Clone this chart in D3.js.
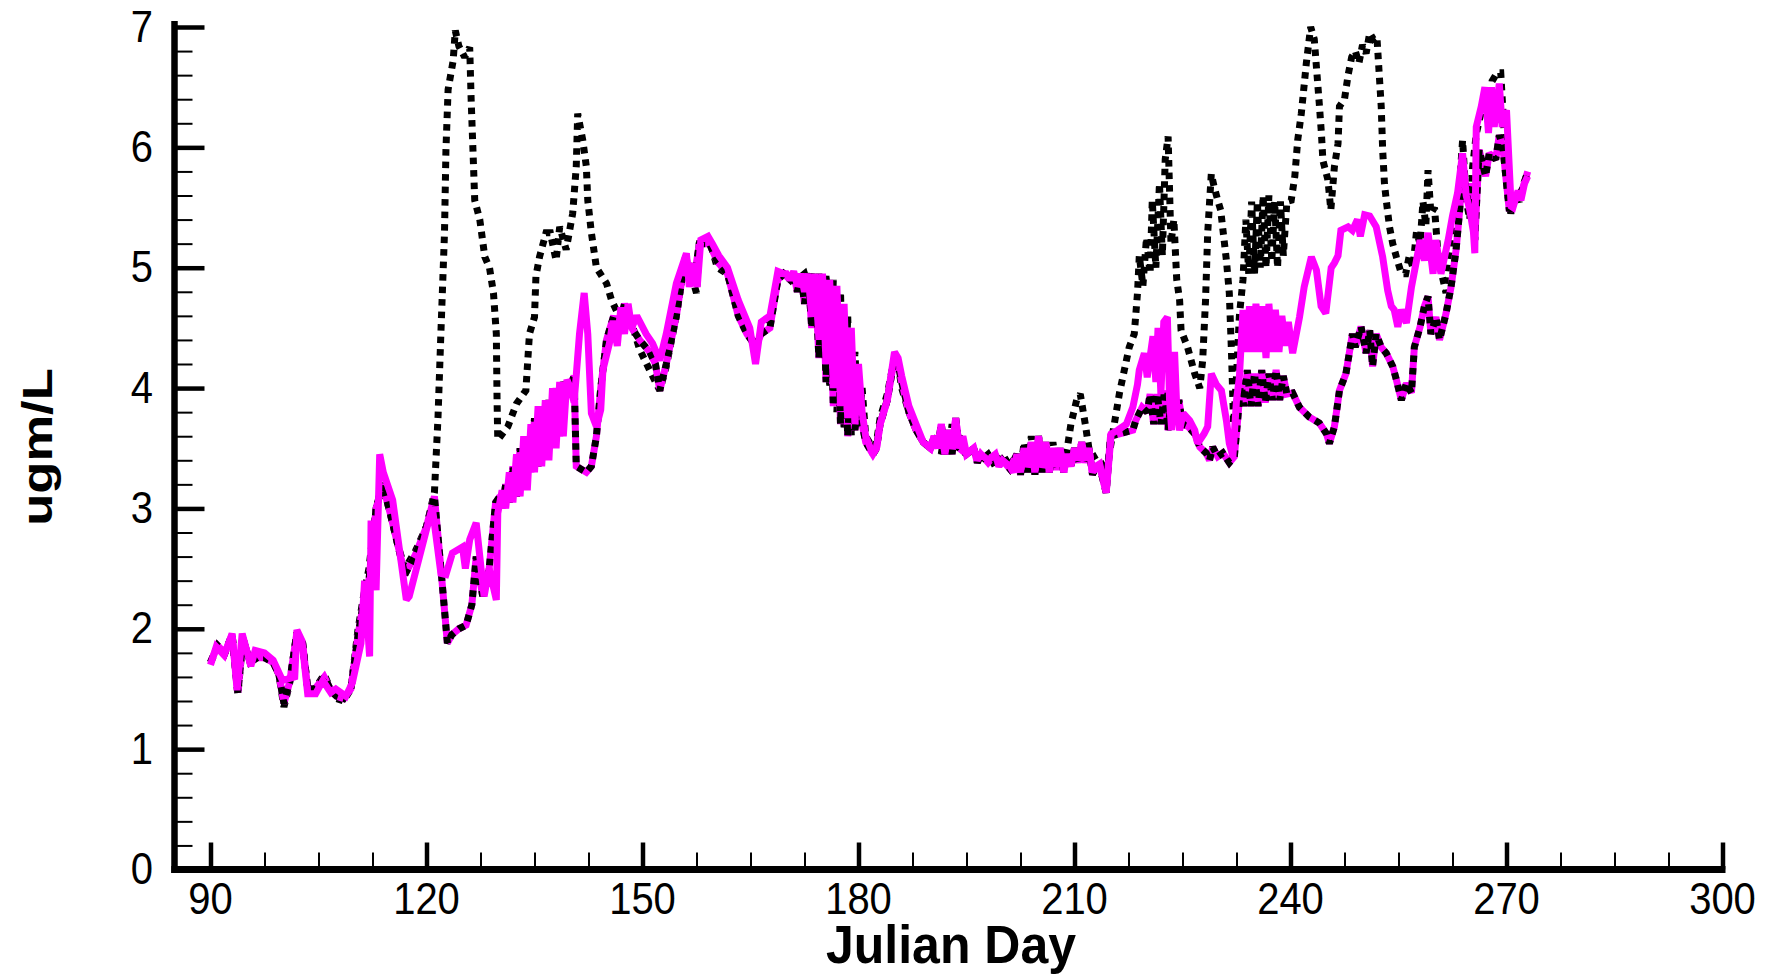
<!DOCTYPE html>
<html><head><meta charset="utf-8">
<script src="https://cdn.jsdelivr.net/npm/d3@7"></script>
<style>html,body{margin:0;padding:0;background:#fff;}svg{display:block;}</style>
</head><body>
<script>
// ---- data (Julian Day, ugm/L) ----
const xMajorTicks = [90,120,150,180,210,240,270,300];
const yMajorTicks = [0,1,2,3,4,5,6,7];
const xLabel = "Julian Day";
const yLabel = "ugm/L";

// upper black dotted series
const seriesHigh = [[90,1.72],[91,1.86],[92,1.8],[93,1.95],[93.8,1.45],[94.5,1.92],[95.5,1.72],[96.5,1.76],[97.5,1.78],[98.7,1.72],[99.5,1.62],[100.2,1.35],[101,1.55],[102,1.97],[102.8,1.88],[103.5,1.5],[104.5,1.5],[105.8,1.62],[106.8,1.48],[107.5,1.42],[108.5,1.4],[109.5,1.5],[110.5,2.0],[111.2,2.25],[112,2.5],[113,3.0],[113.9,3.21],[115,2.95],[116,2.7],[117,2.5],[118.5,2.65],[120,2.85],[121.1,3.13],
[121.6,3.76],[122,4.46],[122.5,5.29],[122.7,5.98],[123,6.48],[123.7,6.72],[124,6.97],[124.5,6.84],[125.3,6.75],[126,6.83],[126.2,6.4],[126.7,5.56],[127.4,5.4],[128.1,5.09],[128.75,5.0],[129.3,4.79],[129.7,4.45],[129.8,3.9],[129.9,3.57],[131.3,3.68],[131.8,3.76],[132.5,3.87],[133.8,3.98],[134.3,4.45],[135,4.59],[135.2,4.93],[135.7,5.09],[136.6,5.29],[137.2,5.29],[138,5.06],[138.5,5.34],[139.4,5.15],[140.3,5.45],[140.8,5.84],[141,6.28],[141.7,6.06],[142.2,5.84],[142.4,5.56],[142.9,5.29],[143.6,5.0],[145,4.87],[145.7,4.73],[146.8,4.59],[148.2,4.6],[149.6,4.32],[151.4,4.1],[152.4,3.98],[153.3,4.18],[154.7,4.6],[155.6,4.95],[156,5.1],[157.5,4.79],[157.9,5.23],[159.3,5.23],[160.4,5.0],
[161.8,4.95],[163.3,4.65],[164.5,4.5],[165.5,4.35],[166.5,4.45],[167.7,4.55],[168.8,4.9],[169.6,4.95],[170.5,4.95],[171.5,4.9],[172.5,4.95],[173,4.85],[173.5,4.95],[174,4.6],[174.5,4.95],[175,4.3],[175.5,4.95],[176,4.0],[176.5,4.9],[177,3.8],[177.5,4.8],[178,3.65],[178.5,4.6],[179,3.6],[179.5,4.3],[180,3.7],[180.5,4.0],[181,3.6],[182,3.5],[182.5,3.55],[183,3.75],[184,3.95],[185,4.25],[185.5,4.2],[186,4.0],[187,3.8],[188,3.65],[189,3.55],[190,3.5],
[190.5,3.55],[191,3.6],[191.5,3.45],[192,3.65],[192.5,3.45],[193,3.7],[193.5,3.5],[194,3.6],[195,3.45],[196,3.5],[197,3.4],[198,3.45],[199,3.35],[200,3.45],[201,3.35],[202,3.45],[202.5,3.3],[203,3.55],[203.5,3.35],[204,3.6],[204.5,3.3],[205,3.6],[205.5,3.35],[206,3.55],[206.5,3.3],[207,3.55],[207.5,3.35],[208,3.5],[208.5,3.35],[209,3.5],[209.5,3.7],[210.3,3.9],[210.8,3.95],[211.5,3.7],[212,3.5],[213,3.4],[213.5,3.4],[214.4,3.3],[215.3,3.62],[216.25,3.96],[217.6,4.34],[218.3,4.45],[218.75,4.79],[219,5.1],
[219.5,4.85],[220,5.25],[220.5,4.95],[220.8,5.56],[221.3,5.0],[221.8,5.7],[222.2,5.1],[222.6,5.9],[223,6.09],[223.4,5.2],[223.8,5.4],[224.2,4.9],[224.6,4.73],[224.8,4.48],[225.7,4.34],[226.7,4.12],[227.4,4.0],[227.8,4.23],[228.2,4.73],[228.5,5.29],[229,5.78],[229.4,5.67],[229.9,5.56],[230.3,5.48],[231.1,5.06],[231.5,4.79],[231.8,4.3],[232.1,3.7],[232.5,4.1],[232.9,4.6],[233.4,4.9],[233.8,5.4],[234.2,4.95],[234.6,5.55],[235,4.95],[235.4,5.55],[235.8,5.0],[236.2,5.6],[236.6,5.0],[237,5.6],[237.4,5.05],[237.8,5.55],[238.2,5.0],[238.6,5.55],[239,5.1],[239.5,5.55],[240.1,5.56],[240.6,5.76],[241,6.06],[241.5,6.28],[242.2,6.7],[242.8,7.0],[243.3,6.9],[244,6.36],[244.3,6.11],[244.5,5.89],[245.2,5.73],[245.6,5.48],[246.1,5.84],[246.6,6.03],[246.8,6.34],[247.5,6.4],[248,6.6],[248.5,6.75],[249,6.8],[249.5,6.7],[250,6.85],[250.5,6.78],[251,6.95],[251.5,6.9],[252,6.92],[252.6,6.34],[252.8,5.98],[253.05,5.7],[253.3,5.56],[253.75,5.34],[254.2,5.2],[254.7,5.09],[255.4,4.95],[256,4.95],[256.5,5.1],[257,5.0],[257.5,5.3],[258,5.2],[258.4,5.55],[258.8,5.35],[259.1,5.81],[259.5,5.45],[260,5.5],[260.5,5.1],[261,4.95],[261.6,4.79],[262.1,5.06],[262.5,5.23],[263.5,5.7],[263.9,6.06],[264.4,5.56],[264.9,5.4],[265.3,5.84],[265.8,6.11],[266.5,6.3],[267,6.4],[267.5,6.2],[268,6.55],[268.7,6.62],[269.2,6.62],[269.6,6.2],[270.2,5.6],[270.6,5.45],[271.2,5.6],[271.8,5.55],[272.4,5.7],[273,5.8]];

// magenta solid series
const seriesMid = [[90,1.70],[90.8,1.85],[91.9,1.78],[93,1.96],[93.7,1.49],[94.4,1.96],[95.6,1.69],[96.2,1.82],[97.5,1.80],[98.7,1.74],[100,1.57],[101.7,1.60],[102,1.99],[102.7,1.9],[103.5,1.46],[104.6,1.46],[105.6,1.57],[106.7,1.47],[107.4,1.5],[108.8,1.44],[109.7,1.55],[110.9,1.88],[111.4,2.4],[112.1,1.77],[112.3,2.9],[113,2.32],[113.5,3.45],[114,3.3],[115.3,3.07],[117.2,2.24],[117.6,2.27],[120.8,3.01],[122,2.46],[122.7,2.45],[123.6,2.63],[125,2.68],[125.4,2.5],[126,2.74],[126.9,2.88],[128,2.27],[128.7,2.5],[129.7,2.24],[129.9,2.96],
[130.5,3.15],[131,3.0],[131.5,3.3],[132,3.05],[132.5,3.45],[133,3.1],[133.5,3.6],[134,3.15],[134.5,3.7],[135,3.3],[135.5,3.85],[136,3.35],[136.5,3.9],[137,3.4],[137.5,4.0],[138,3.5],[138.5,4.05],[139,3.6],[139.5,4.07],[140,4.0],[140.5,3.88],[141.25,4.45],[141.9,4.79],[142.4,4.45],[142.9,3.79],[143.6,3.68],[144.2,3.82],[144.5,4.15],[145.4,4.37],[145.9,4.56],[146.5,4.35],[147,4.67],[147.5,4.45],[148,4.7],[148.5,4.5],[149.2,4.6],[150.5,4.45],[151.4,4.37],[152.4,4.23],[153.3,4.45],[154.7,4.87],[156.1,5.12],[156.5,4.84],[157,5.04],[157.6,4.84],[158.1,5.23],[159.1,5.26],[159.7,5.2],[160.6,5.1],
[161.8,5.0],[163.3,4.73],[164.9,4.5],[165.7,4.2],[166.5,4.55],[167.7,4.6],[168.8,4.97],[169.6,4.95],[170,4.95],[170.5,4.9],[171,4.97],[171.5,4.85],[172,4.95],[172.5,4.8],[173,4.95],[173.5,4.6],[174,4.95],[174.5,4.4],[175,4.95],[175.5,4.2],[176,4.9],[176.5,4.0],[177,4.85],[177.5,3.85],[178,4.7],[178.5,3.75],[179,4.5],[179.5,3.7],[180,4.2],[180.5,3.8],[181,3.6],[182,3.45],[182.5,3.5],[183,3.7],[184,3.9],[185,4.3],[185.5,4.25],[186,4.1],[187,3.85],[188,3.7],[189,3.55],[190,3.5],
[190.5,3.6],[191,3.5],[191.5,3.7],[192,3.45],[192.5,3.65],[193,3.5],[193.5,3.75],[194,3.5],[194.5,3.6],[195,3.45],[196,3.5],[196.5,3.4],[197,3.45],[198,3.4],[199,3.45],[199.5,3.35],[200,3.4],[201,3.35],[201.5,3.3],[202,3.45],[202.5,3.3],[203,3.5],[203.5,3.35],[204,3.55],[204.5,3.3],[205,3.6],[205.5,3.35],[206,3.55],[206.5,3.3],[207,3.5],[207.5,3.35],[208,3.5],[208.5,3.3],[209,3.45],[209.5,3.35],[210,3.5],[210.5,3.4],[211,3.55],[211.5,3.4],[212,3.5],[212.5,3.3],[213,3.35],[213.5,3.37],[214.4,3.13],[215.1,3.62],[216,3.65],[217.2,3.7],[218.1,3.84],[218.75,4.03],[219,4.15],[219.7,4.29],[220.1,4.09],[220.9,4.43],[221.3,4.05],[221.6,4.5],[222,3.95],[222.4,4.55],[222.9,4.59],[223.2,3.9],[223.5,3.65],[223.9,4.3],[224.2,3.84],[224.6,3.65],[225.1,3.79],[226,3.73],[226.7,3.65],[227.1,3.54],[228,3.62],[228.5,3.68],[229,4.12],[229.7,4.03],[230.4,3.98],[231.1,3.73],[231.5,3.54],[232,3.43],[232.5,3.9],[232.9,4.09],[233.4,4.65],[233.9,4.3],[234.3,4.68],[234.8,4.3],[235.2,4.7],[235.7,4.3],[236.1,4.68],[236.6,4.25],[237,4.7],[237.5,4.3],[237.9,4.65],[238.4,4.3],[238.8,4.6],[239.3,4.35],[239.7,4.55],[240.3,4.29],[241.25,4.59],[241.9,4.84],[242.9,5.09],[243.6,4.98],[244.25,4.68],[244.9,4.62],[245.65,5.0],[246.1,5.04],[246.6,5.1],[247,5.31],[248,5.34],[248.6,5.31],[249.3,5.4],[249.7,5.26],[250.3,5.44],[251,5.43],[251.9,5.34],[252.8,5.09],[253.5,4.81],[254,4.68],[254.4,4.65],[254.9,4.51],[255.4,4.65],[256.1,4.54],[256.8,4.84],[257.5,5.06],[258,5.23],[258.6,5.06],[259.1,5.29],[259.8,4.95],[260.2,5.23],[260.9,4.95],[261.9,5.23],[262.5,5.43],[263.2,5.62],[263.9,5.95],[264.4,5.6],[264.9,5.48],[265.4,5.3],[265.6,5.12],[265.8,6.17],[266.5,6.34],[267,6.5],[267.5,6.12],[267.9,6.5],[268.3,6.17],[269,6.53],[269.4,6.17],[270,6.31],[270.65,5.51],[270.9,5.5],[271.6,5.64],[272,5.56],[272.5,5.7],[272.95,5.76]];

// lower series (magenta line overdrawn with black dots)
const seriesLow = [[90,1.72],[91,1.86],[92,1.8],[93,1.95],[93.8,1.47],[94.5,1.92],[95.5,1.72],[96.5,1.76],[97.5,1.76],[98.7,1.72],[99.5,1.62],[100.2,1.38],[101,1.56],[102,1.97],[102.8,1.88],[103.5,1.5],[104.5,1.5],[105.8,1.6],[106.8,1.48],[107.5,1.44],[108.5,1.42],[109.5,1.5],[110.5,1.95],[111.2,2.2],[112,2.4],[113,3.0],[113.9,3.2],[115,2.95],[116,2.7],[117,2.45],[118.5,2.62],[120,2.85],[121.1,3.1],
[122,2.5],[122.9,1.88],[123.5,1.95],[124.5,2.0],[125.5,2.03],[126.3,2.2],[126.9,2.6],[127.8,2.27],[128.7,2.5],[129.6,3.05],[130.2,3.1],[130.5,3.0],[131,3.2],[131.5,3.05],[132,3.35],[132.5,3.1],[133,3.5],[133.5,3.2],[134,3.6],[134.5,3.3],[135,3.75],[135.5,3.35],[136,3.85],[136.5,3.45],[137,3.9],[137.5,3.55],[138,4.0],[138.5,3.6],[139,4.05],[139.5,3.95],[140.5,4.1],[140.8,3.35],[142.2,3.3],[142.9,3.35],[143.6,3.6],[144.2,4.0],[145,4.4],[146,4.6],[146.5,4.45],[147.5,4.7],[148.5,4.5],[149.6,4.4],[151,4.3],[151.8,4.2],[152.4,3.98],[153.3,4.2],[154.7,4.6],[155.6,4.95],[156,5.1],[157,4.85],[157.9,5.2],[159.3,5.2],[160.4,5.05],
[161.8,4.95],[163.3,4.6],[164.5,4.45],[165.7,4.35],[166.5,4.45],[167.7,4.5],[168.8,4.9],[169.6,4.95],[170.5,4.9],[171,4.95],[171.5,4.8],[172,4.95],[172.5,4.7],[173,4.95],[173.5,4.5],[174,4.9],[174.5,4.25],[175,4.9],[175.5,4.05],[176,4.85],[176.5,3.85],[177,4.75],[177.5,3.7],[178,4.5],[178.5,3.6],[179,4.2],[179.5,3.65],[180,3.9],[180.5,3.7],[181,3.55],[182,3.45],[182.5,3.5],[183,3.7],[184,3.9],[185,4.25],[185.5,4.2],[186,4.05],[187,3.8],[188,3.65],[189,3.55],[190,3.5],
[190.5,3.6],[191,3.5],[191.5,3.7],[192,3.45],[192.5,3.65],[193,3.45],[193.5,3.75],[194,3.5],[195,3.45],[196,3.5],[196.5,3.38],[197,3.45],[198,3.38],[199,3.45],[199.5,3.35],[200,3.4],[201,3.33],[202,3.45],[202.5,3.28],[203,3.5],[203.5,3.3],[204,3.55],[204.5,3.28],[205,3.6],[205.5,3.3],[206,3.55],[206.5,3.3],[207,3.5],[207.5,3.32],[208,3.5],[208.5,3.3],[209,3.45],[209.5,3.35],[210,3.5],[210.5,3.38],[211,3.55],[211.5,3.38],[212,3.5],[212.5,3.28],[213,3.35],[213.5,3.35],[214.4,3.13],
[215,3.6],[216.25,3.62],[218.1,3.65],[218.5,3.73],[219.4,3.84],[220.1,3.8],[220.5,3.95],[221,3.7],[221.5,3.95],[222,3.7],[222.5,3.98],[223,3.65],[223.5,3.95],[224,3.7],[224.5,3.9],[225,3.7],[225.8,3.68],[226.7,3.62],[227.4,3.51],[228.3,3.46],[228.75,3.4],[229.2,3.51],[229.9,3.43],[230.6,3.46],[231.5,3.38],[232.2,3.43],[232.7,3.76],[233.1,4.07],[233.5,3.85],[234,4.15],[234.5,3.85],[235,4.12],[235.5,3.85],[236,4.15],[236.5,3.88],[237,4.12],[237.5,3.9],[238,4.15],[238.5,3.9],[239,4.1],[239.5,3.95],[240.3,3.96],[241.25,3.84],[242.6,3.76],[244,3.71],[245,3.62],[245.4,3.54],[246.1,3.68],[246.8,3.98],[247.7,4.12],[248.6,4.45],[249,4.34],[249.8,4.51],[250.5,4.29],[251,4.48],[251.4,4.18],[251.9,4.45],[252.6,4.34],[253.3,4.29],[254.2,4.18],[254.7,4.07],[255.4,3.9],[256.1,4.04],[256.8,3.96],[257.2,4.34],[258,4.51],[258.6,4.68],[259.1,4.76],[259.5,4.45],[260.2,4.59],[260.7,4.4],[261.6,4.62],[262.3,4.84],[263,5.15],[263.5,5.48],[263.9,5.84],[264.6,5.56],[265.1,5.7],[265.6,5.23],[266.2,5.98],[267.1,5.76],[267.6,5.95],[268.5,5.9],[269,6.1],[269.5,6.0],[270,5.7],[270.4,5.47],[271,5.55],[271.6,5.6],[272.2,5.65],[272.95,5.8]];

// ---- drawing ----
const W = 1765, H = 974;
const svg = d3.select("body").append("svg").attr("width", W).attr("height", H);
const x = d3.scaleLinear().domain([85, 300]).range([174.5, 1722.5]);
const y = d3.scaleLinear().domain([0, 7]).range([869.5, 27]);

const line = d3.line().x(d => x(d[0])).y(d => y(d[1]));
const MAG = "#ff00ff";

function drawLine(data, color, dash, width) {
  svg.append("path").datum(data).attr("d", line)
    .attr("fill", "none").attr("stroke", color).attr("stroke-width", width)
    .attr("stroke-linejoin", "miter").attr("stroke-miterlimit", 2)
    .attr("stroke-dasharray", dash || null);
}
drawLine(seriesHigh, "#000", "6.5 6", 7);
drawLine(seriesLow, MAG, null, 7);
drawLine(seriesLow, "#000", "6.5 6", 7);
drawLine(seriesMid, MAG, null, 7);

// ticks
const xMinor = d3.range(97.5, 300, 7.5).filter(v => !xMajorTicks.includes(v));
const yMinor = d3.range(0.2, 7, 0.2).map(v => +v.toFixed(1)).filter(v => !yMajorTicks.includes(v));

const gx = svg.append("g").attr("transform", `translate(0,${y(0)})`);
gx.call(d3.axisBottom(x).tickValues(xMajorTicks).tickSize(-27).tickFormat(""))
  .call(g => g.select(".domain").remove())
  .call(g => g.selectAll("line").attr("stroke", "#000").attr("stroke-width", 4.5));
const gx2 = svg.append("g").attr("transform", `translate(0,${y(0)})`);
gx2.call(d3.axisBottom(x).tickValues(xMinor).tickSize(-17).tickFormat(""))
  .call(g => g.select(".domain").remove())
  .call(g => g.selectAll("line").attr("stroke", "#000").attr("stroke-width", 2));

const gy = svg.append("g").attr("transform", `translate(${x(85)},0)`);
gy.call(d3.axisLeft(y).tickValues(yMajorTicks).tickSize(-30).tickFormat(""))
  .call(g => g.select(".domain").remove())
  .call(g => g.selectAll("line").attr("stroke", "#000").attr("stroke-width", 4.5));
const gy2 = svg.append("g").attr("transform", `translate(${x(85)},0)`);
gy2.call(d3.axisLeft(y).tickValues(yMinor).tickSize(-18).tickFormat(""))
  .call(g => g.select(".domain").remove())
  .call(g => g.selectAll("line").attr("stroke", "#000").attr("stroke-width", 2));

// axis lines
svg.append("line").attr("x1", x(85)).attr("x2", x(85)).attr("y1", y(7) - 6).attr("y2", y(0) + 3.5)
  .attr("stroke", "#000").attr("stroke-width", 6.5);
svg.append("line").attr("x1", x(85) - 3.2).attr("x2", x(300) + 3).attr("y1", y(0)).attr("y2", y(0))
  .attr("stroke", "#000").attr("stroke-width", 7);

// tick labels
const FONT = "'Liberation Sans', Arial, Helvetica, sans-serif";
svg.append("g").selectAll("text").data(yMajorTicks).join("text")
  .attr("transform", d => `translate(153,${y(d) + 14.5}) scale(1,1.09)`)
  .attr("text-anchor", "end").attr("font-family", FONT).attr("font-size", 40)
  .attr("fill", "#000").text(d => d);
svg.append("g").selectAll("text").data(xMajorTicks).join("text")
  .attr("transform", d => `translate(${x(d)},914) scale(1,1.09)`)
  .attr("text-anchor", "middle").attr("font-family", FONT).attr("font-size", 40)
  .attr("fill", "#000").text(d => d);

// axis titles
svg.append("text").attr("transform", "translate(951,963) scale(1,1.08)")
  .attr("text-anchor", "middle").attr("font-family", FONT).attr("font-weight", "bold")
  .attr("font-size", 50).attr("fill", "#000").text(xLabel);
svg.append("text").attr("transform", "translate(52,447) rotate(-90) scale(1.25,1)")
  .attr("text-anchor", "middle").attr("font-family", FONT).attr("font-weight", "bold")
  .attr("font-size", 42).attr("fill", "#000").text(yLabel);
</script>
</body></html>
